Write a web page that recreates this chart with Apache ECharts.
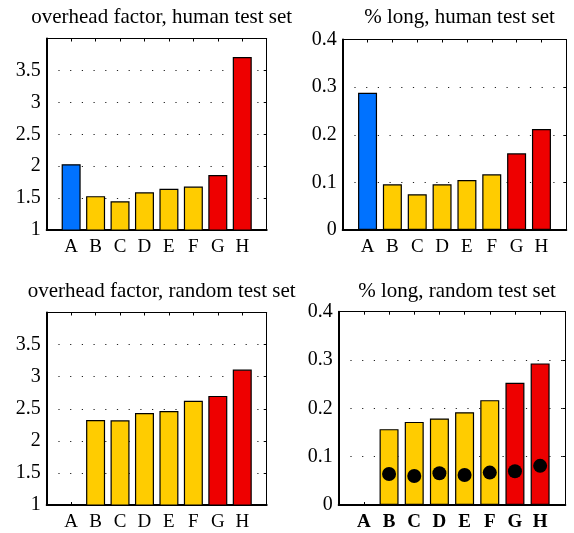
<!DOCTYPE html>
<html>
<head>
<meta charset="utf-8">
<script src="https://cdn.jsdelivr.net/npm/echarts@6/dist/echarts.min.js"></script>
<style>
html,body{margin:0;padding:0;background:#fff;}
#c{width:574px;height:533px;}
</style>
</head>
<body>
<div id="c"></div>
<script>
// ---- data ----
const categories = ['A','B','C','D','E','F','G','H'];
const overheadHuman = [2.03, 1.53, 1.45, 1.59, 1.645, 1.68, 1.86, 3.71];
const longHuman = [0.288, 0.096, 0.075, 0.096, 0.105, 0.117, 0.161, 0.212];
const overheadRandom = [null, 2.324, 2.319, 2.433, 2.464, 2.625, 2.70, 3.11];
const longRandom = [null, 0.157, 0.172, 0.179, 0.192, 0.217, 0.253, 0.293];
const longRandomDots = [null, 0.064, 0.060, 0.0656, 0.062, 0.067, 0.0697, 0.081];
const overheadTicks = ['1','1.5','2','2.5','3','3.5',''];
const longTicks = ['0','0.1','0.2','0.3','0.4'];
const titles = ['overhead factor, human test set','% long, human test set','overhead factor, random test set','% long, random test set'];

// ---- styles ----
const BLUE = '#0072FF', YELLOW = '#FFCC00', RED = '#EE0000';
const catColors = [BLUE, YELLOW, YELLOW, YELLOW, YELLOW, YELLOW, RED, RED];
const FONT = 'Liberation Serif';

const grids = [
  {left: 46.7, right: 307.3, top: 38.5, bottom: 303},
  {left: 342.7, right: 7.7, top: 39.5, bottom: 303},
  {left: 46.7, right: 307.3, top: 312.5, bottom: 28},
  {left: 338.7, right: 8.7, top: 311.7, bottom: 28}
];

const xAxis = [], yAxis = [], series = [], title = [];
grids.forEach((g, i) => {
  const bold = i === 3;
  xAxis.push({
    gridIndex: i, type: 'value', min: 0, max: 9, interval: 1,
    axisLine: {show: true, onZero: false, lineStyle: {color: '#000', width: 2}},
    axisTick: {show: true, inside: true, length: 3, lineStyle: {color: '#000'}},
    splitLine: {show: false},
    axisLabel: {
      show: true, margin: 8, color: '#000', fontFamily: FONT, fontSize: 19,
      fontWeight: bold ? 'bold' : 'normal',
      formatter: v => (v >= 1 && v <= 8) ? categories[v - 1] : ''
    }
  });
  xAxis.push({
    gridIndex: i, type: 'value', position: 'top', min: 0, max: 9, interval: 1,
    axisLine: {show: true, onZero: false, lineStyle: {color: '#000', width: 1}},
    axisTick: {show: true, inside: true, length: 3, lineStyle: {color: '#000'}},
    axisLabel: {show: false}, splitLine: {show: false}
  });
  const isOver = (i === 0 || i === 2);
  const ticks = isOver ? overheadTicks : longTicks;
  const ymin = isOver ? 1 : 0, ymax = isOver ? 4 : 0.4, yint = isOver ? 0.5 : 0.1;
  yAxis.push({
    gridIndex: i, type: 'value', min: ymin, max: ymax, interval: yint,
    axisLine: {show: true, onZero: false, lineStyle: {color: '#000', width: 2}},
    axisTick: {show: false},
    splitLine: {show: true, lineStyle: {color: '#222', width: 1.2, type: [1.2, 10.5]}},
    axisLabel: {
      show: true, margin: 6, color: '#000', fontFamily: FONT, fontSize: 20,
      formatter: v => { const k = Math.round((v - ymin) / yint); return ticks[k] || ''; }
    }
  });
  yAxis.push({
    gridIndex: i, type: 'value', position: 'right', min: ymin, max: ymax, interval: yint,
    axisLine: {show: true, onZero: false, lineStyle: {color: '#000', width: 1}},
    axisTick: {show: true, inside: true, length: 3, lineStyle: {color: '#000'}},
    axisLabel: {show: false}, splitLine: {show: false}
  });
  title.push({
    text: titles[i],
    left: g.left + (574 - g.left - g.right) / 2,
    textAlign: 'center',
    top: i < 2 ? 2 : 276,
    textStyle: {fontFamily: FONT, fontSize: 21, fontWeight: 'normal', color: '#000'}
  });
});

const panels = [overheadHuman, longHuman, overheadRandom, longRandom];
panels.forEach((vals, i) => {
  series.push({
    type: 'bar', xAxisIndex: i * 2, yAxisIndex: i * 2, barWidth: 19,
    data: vals.map((v, k) => v == null ? null : {
      value: [k + 1, v],
      itemStyle: {color: catColors[k], borderColor: '#000', borderWidth: 1.2}
    }).filter(d => d),
    silent: true, animation: false
  });
});
series.push({
  type: 'scatter', xAxisIndex: 6, yAxisIndex: 6, symbol: 'circle', symbolSize: 14,
  itemStyle: {color: '#000', opacity: 1},
  data: longRandomDots.map((v, k) => v == null ? null : [k + 1, v]).filter(d => d),
  silent: true, animation: false, z: 5
});

const chart = echarts.init(document.getElementById('c'), null, {renderer: 'canvas'});
chart.setOption({
  backgroundColor: '#fff',
  animation: false,
  title, grid: grids, xAxis, yAxis, series
});
</script>
</body>
</html>
